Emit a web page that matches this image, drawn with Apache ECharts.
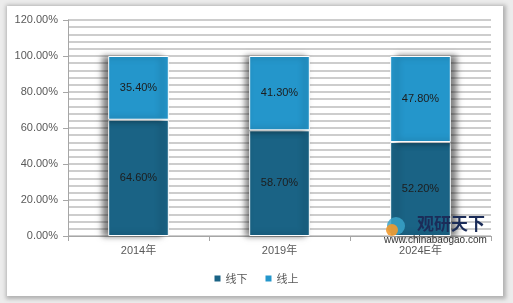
<!DOCTYPE html>
<html><head><meta charset="utf-8">
<script src="https://cdn.jsdelivr.net/npm/echarts@6/dist/echarts.min.js"></script>
<style>
html,body{margin:0;padding:0;background:#ececec;width:513px;height:303px;overflow:hidden;}
#frame{position:absolute;left:7px;top:6px;width:496px;height:290px;background:#fff;box-shadow:1px 1px 4px 2px rgba(0,0,0,0.25);}
#c{position:absolute;left:0;top:0;width:513px;height:303px;}
</style></head><body>
<div id="frame"></div>
<div id="c"></div>
<script>
var categories = ['2014年', '2019年', '2024E年'];
var offline = [64.6, 58.7, 52.2];
var online = [35.4, 41.3, 47.8];
var seriesNames = ['线下', '线上'];
var shadowX = [-6, -4, 6];

var chart = echarts.init(document.getElementById('c'), null, {renderer:'canvas'});
function mk(vals, color){
  return vals.map(function(v,i){
    return {value:v, itemStyle:{color:color, borderColor:'#ffffff', borderWidth:1,
      shadowColor:'rgba(0,0,0,0.5)', shadowBlur:6, shadowOffsetX:shadowX[i], shadowOffsetY:0}};
  });
}
var lbl = {show:true, position:'inside', color:'#1d1d1d', fontSize:11, fontFamily:'Liberation Sans, Arial',
  formatter:function(p){return p.value.toFixed(2)+'%';}};
chart.setOption({
  animation:false,
  backgroundColor:'transparent',
  textStyle:{fontFamily:'Liberation Sans, Noto Sans CJK SC'},
  grid:{left:68, right:22, top:20, bottom:67, containLabel:false},
  legend:{bottom:14, left:'center', itemWidth:6, itemHeight:6, itemGap:18, icon:'rect',
    textStyle:{color:'#595959', fontSize:11, fontFamily:'Noto Sans CJK SC'},
    data:seriesNames},
  xAxis:{type:'category', data:categories,
    axisLine:{lineStyle:{color:'#a6a6a6', width:1}},
    axisTick:{show:true, inside:false, length:5, lineStyle:{color:'#a6a6a6'}},
    axisLabel:{color:'#595959', fontSize:11, margin:9, fontFamily:'Liberation Sans, Noto Sans CJK SC'}},
  yAxis:{type:'value', min:0, max:120, interval:20,
    axisLine:{show:true, lineStyle:{color:'#a6a6a6'}},
    axisTick:{show:true, length:5, lineStyle:{color:'#a6a6a6'}},
    axisLabel:{color:'#595959', fontSize:11, margin:10, formatter:function(v){return v.toFixed(2)+'%';}},
    splitLine:{show:true, lineStyle:{color:'#bdbdbd', width:1.5}},
    minorTick:{show:false, splitNumber:5},
    minorSplitLine:{show:true, lineStyle:{color:'#bdbdbd', width:1.5}}},
  series:[
    {name:seriesNames[0], type:'bar', stack:'a', barWidth:'43%', data:mk(offline,'#1a6385'), label:lbl, itemStyle:{color:'#1a6385'}},
    {name:seriesNames[1], type:'bar', stack:'a', barWidth:'43%', data:mk(online,'#2496cb'), label:lbl, itemStyle:{color:'#2496cb'}}
  ],
  graphic:[
    {type:'circle', shape:{cx:396, cy:226, r:9}, style:{fill:'#3aa3c9', opacity:0.85}, z:100},
    {type:'circle', shape:{cx:392, cy:230, r:6}, style:{fill:'#f29a2e', opacity:0.9}, z:101},
    {type:'text', left:417, top:215, style:{text:'观研天下', fill:'#1b2c58', font:'bold 17px Noto Sans CJK SC'}, z:100},
    {type:'text', left:384, top:235, style:{text:'www.chinabaogao.com', fill:'#333', font:'10px Liberation Sans'}, z:100}
  ]
});
</script>
</body></html>
